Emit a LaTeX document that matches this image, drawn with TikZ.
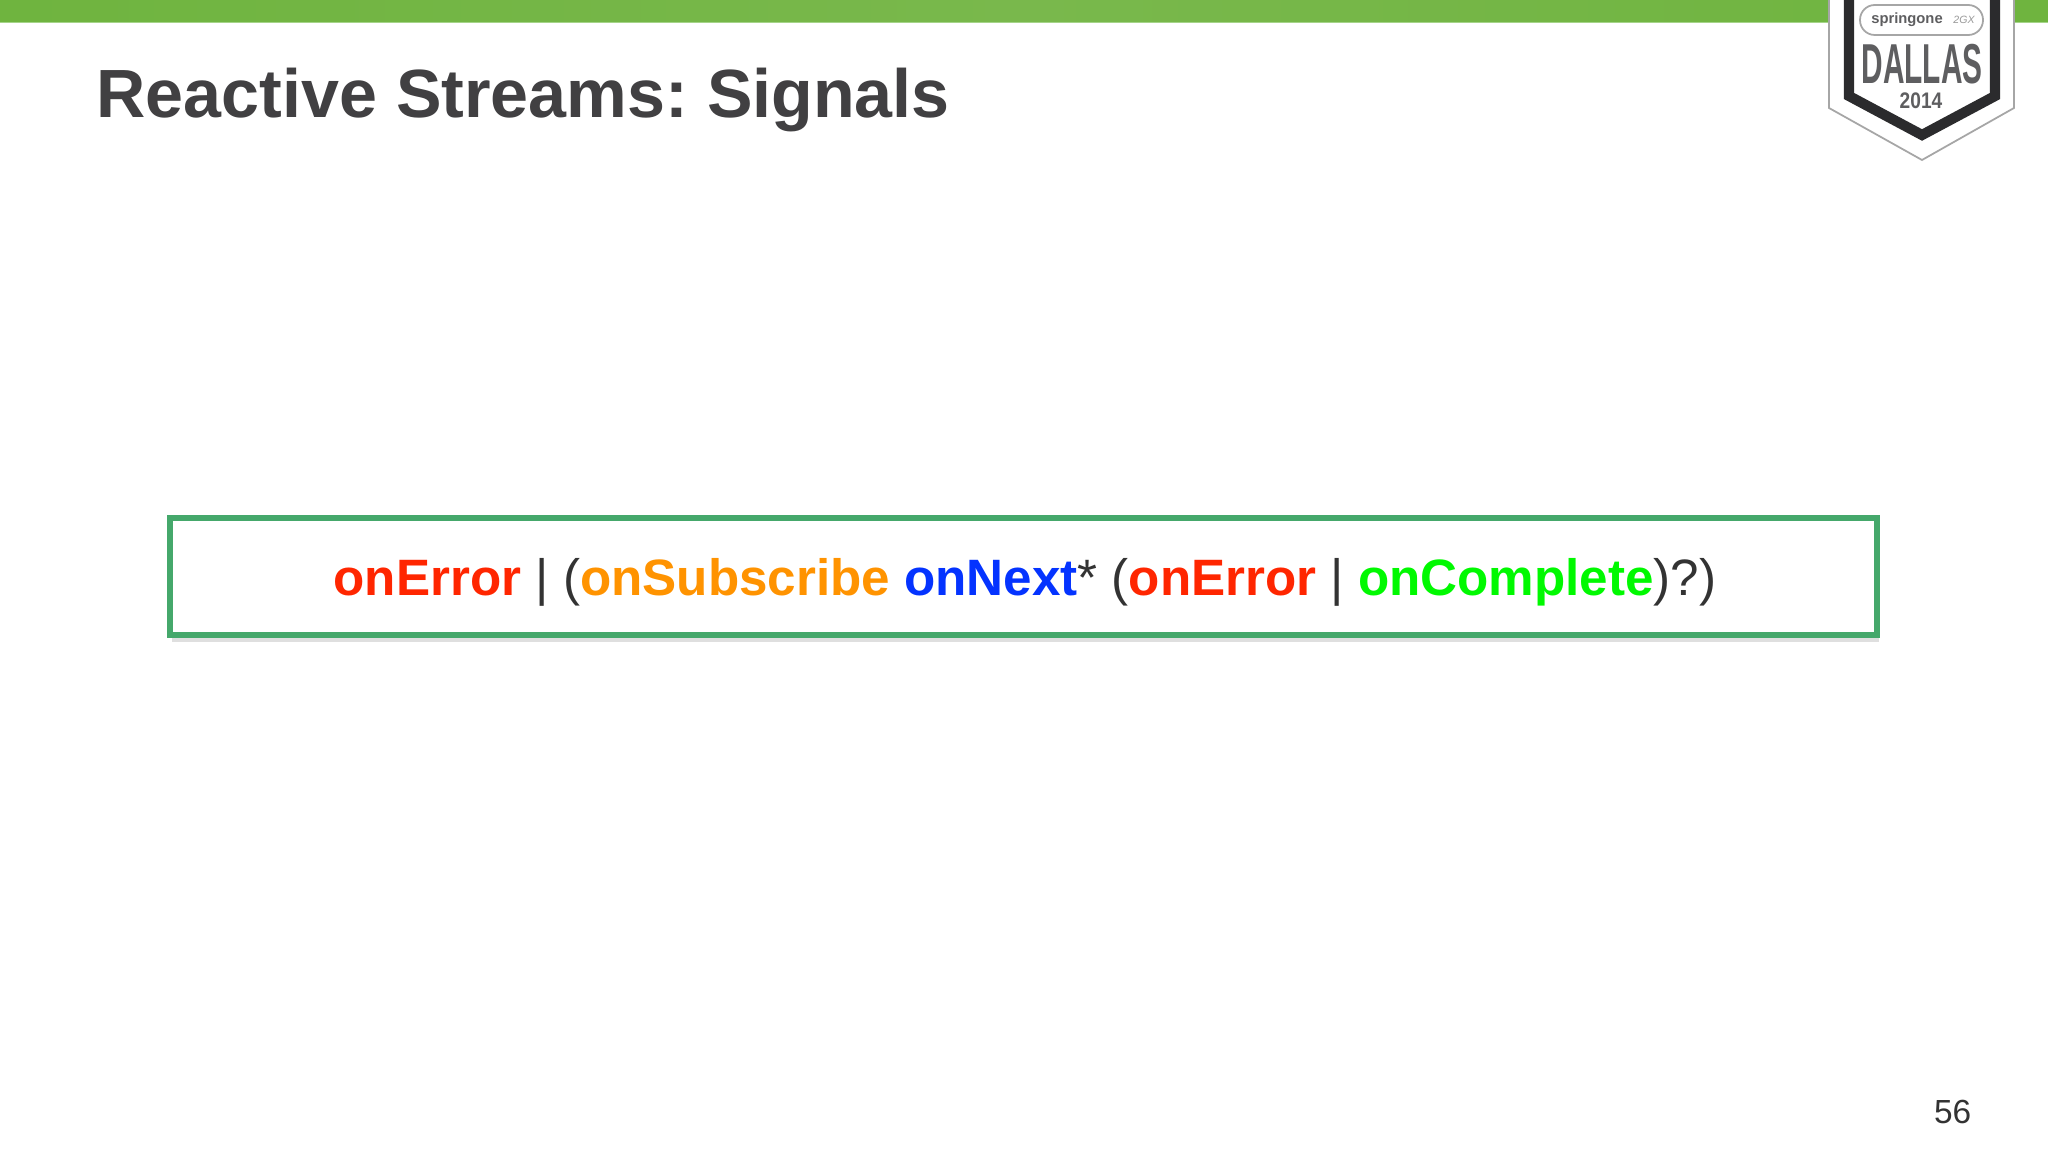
\documentclass[tikz,border=0pt]{standalone}
\usepackage{fontspec}
\setmainfont{Liberation Sans}
\usetikzlibrary{shadows}
\definecolor{bandgreen}{HTML}{6FB43F}
\definecolor{bandlight}{HTML}{79B84C}
\definecolor{bandedge}{HTML}{A5D489}
\definecolor{boxgreen}{HTML}{45A86B}
\definecolor{titlegrey}{HTML}{414042}
\definecolor{textgrey}{HTML}{333333}
\definecolor{sigred}{HTML}{FF2600}
\definecolor{sigorange}{HTML}{FF9300}
\definecolor{sigblue}{HTML}{0433FF}
\definecolor{siggreen}{HTML}{00F900}
\definecolor{badgedark}{HTML}{2B2B2D}
\definecolor{badgegrey}{HTML}{5E5E60}
\tikzset{title/.style={anchor=base west,inner sep=0pt,text=titlegrey,font=\fontsize{19.4}{24}\bfseries}}
\tikzset{rule/.style={anchor=base,inner sep=0pt,text=textgrey,font=\fontsize{14.55}{17}\selectfont}}
\tikzset{sigbox/.style={draw=boxgreen,line width=1.45pt,fill=white,drop shadow={shadow xshift=0.6pt,shadow yshift=-2pt,opacity=0.25}}}
\tikzset{badge/.style={anchor=center,inner sep=0pt,text=badgegrey}}
\newcommand{\sig}[2]{\textcolor{#1}{\bfseries #2}}
\frenchspacing

\begin{document}
\begin{tikzpicture}[x=0.01cm,y=-0.01cm]
  \useasboundingbox (0,0) rectangle (2048,1152);
  \fill[white] (0,0) rectangle (2048,1152);
  \shade[left color=bandgreen,right color=bandgreen,middle color=bandlight] (0,0) rectangle (2048,22);
  \fill[bandedge] (0,22) rectangle (2048,23.5);
  \node[title] (T) at (96,117.5) {Reactive Streams: Signals};
  % signal grammar
  \path[sigbox] (170,518) rectangle (1877,635);
  \node[rule] (R) at (1025,596) {\sig{sigred}{onError} | (\sig{sigorange}{onSubscribe} \sig{sigblue}{onNext}* (\sig{sigred}{onError} | \sig{siggreen}{onComplete})?)};
  \node[anchor=base east,inner sep=0pt,text=textgrey,font=\fontsize{9.5}{12}\selectfont] (P) at (1972,1123) {56};
  % badge
  \filldraw[draw=black!35,line width=0.5pt,fill=white] (1829,-2) -- (1829,108) -- (1922,160) -- (2014,108) -- (2014,-2) -- cycle;
  \draw[badgedark,line width=2.9pt,miter limit=4] (1849,-4) -- (1849,96) -- (1922,135) -- (1995,96) -- (1995,-4);
  \draw[black!35,line width=0.5pt,rounded corners=4.2pt] (1860,5) rectangle (1983,35);
  \node[badge,font=\fontsize{4.2}{5}\bfseries] (S) at (1907,20) {springone};
  \node[badge,font=\fontsize{3}{4}\itshape,text=black!40] (G) at (1964,20) {2GX};
  \node[badge,font=\fontsize{16}{18}\bfseries,xscale=0.53] (D) at (1922,64) {DALLAS};
  \node[badge,font=\fontsize{6.4}{8}\bfseries,xscale=0.85] (Y) at (1921,101) {2014};
\end{tikzpicture}
\end{document}
